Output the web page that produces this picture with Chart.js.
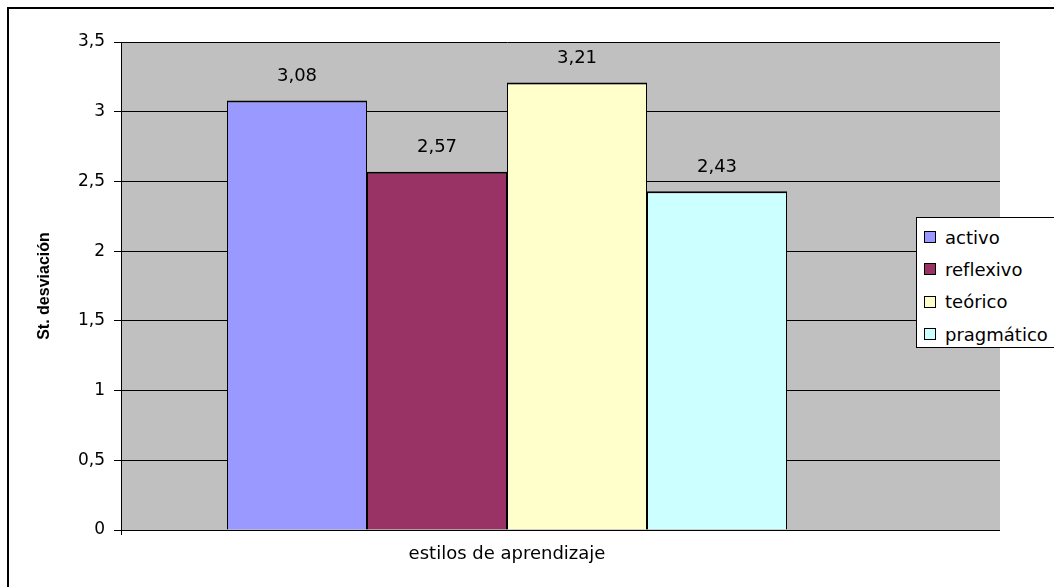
<!DOCTYPE html>
<html lang="es">
<head>
<meta charset="utf-8">
<title>Estilos de aprendizaje</title>
<script src="https://cdn.jsdelivr.net/npm/chart.js@4/dist/chart.umd.min.js"></script>
<style>
  html, body { margin: 0; padding: 0; background: #fff; overflow: hidden; }
  #wrap { position: relative; width: 1054px; height: 587px; overflow: hidden; }
  #frame { position: absolute; left: 7px; top: 7px; width: 2000px; height: 2000px;
           border: 2px solid #000; pointer-events: none; }
  canvas { position: absolute; left: 0; top: 0; }
  #legend { position: absolute; left: 916px; top: 217px; width: 160px; height: 131px;
            background: #fff; border: 1px solid #000; box-sizing: border-box;
            padding-top: 3px; font-family: "DejaVu Sans", sans-serif; font-size: 18px; color: #000; }
  #legend .row { display: flex; align-items: center; height: 32.3px; }
  #legend .sw { width: 12px; height: 12px; box-sizing: border-box; border: 1.5px solid #000;
                margin-left: 7px; margin-right: 9px; flex: none; }
</style>
</head>
<body>
<div id="wrap">
  <canvas id="chart" width="1054" height="587"></canvas>
  <div id="legend"></div>
  <div id="frame"></div>
</div>
<script>
// Data
const categories = ['estilos de aprendizaje'];
const seriesNames = ['activo', 'reflexivo', 'teórico', 'pragmático'];
const seriesValues = [3.08, 2.57, 3.21, 2.43];
const seriesColors = ['#9999FF', '#993366', '#FFFFCC', '#CCFFFF'];
const yTicks = [0, 0.5, 1, 1.5, 2, 2.5, 3, 3.5];

const commaNum = v => String(v).replace('.', ',');

// same pixel snapping Chart.js uses for 1px grid lines
const snap = p => Math.round(p - 0.5) + 0.5;

// Grey plot background; it reaches past the category axis, under the legend
const PLOT_EXTRA = 107;
const plotBackground = {
  id: 'plotBackground',
  beforeDraw(chart) {
    const { ctx, chartArea: a } = chart;
    ctx.save();
    ctx.fillStyle = '#C0C0C0';
    ctx.fillRect(a.left, a.top, a.right - a.left + PLOT_EXTRA, a.bottom - a.top);
    ctx.restore();
  },
  beforeDatasetsDraw(chart) {
    // carry the horizontal gridlines on through the extended grey area
    const { ctx, chartArea: a, scales: { y } } = chart;
    ctx.save();
    ctx.strokeStyle = '#000';
    ctx.lineWidth = 1;
    y.ticks.forEach(t => {
      const py = snap(y.getPixelForValue(t.value));
      ctx.beginPath();
      ctx.moveTo(a.right - 2, py);
      ctx.lineTo(a.right + PLOT_EXTRA, py);
      ctx.stroke();
    });
    ctx.restore();
  }
};

// Value written above each bar
const valueLabels = {
  id: 'valueLabels',
  afterDatasetsDraw(chart) {
    const { ctx } = chart;
    ctx.save();
    ctx.font = '18px "DejaVu Sans", sans-serif';
    ctx.fillStyle = '#000';
    ctx.textAlign = 'center';
    ctx.textBaseline = 'middle';
    chart.data.datasets.forEach((ds, i) => {
      chart.getDatasetMeta(i).data.forEach((bar, j) => {
        ctx.fillText(ds.data[j].toFixed(2).replace('.', ','), bar.x, bar.y - 24);
      });
    });
    ctx.restore();
  }
};

const chart = new Chart(document.getElementById('chart'), {
  type: 'bar',
  data: {
    labels: categories,
    datasets: seriesNames.map((name, i) => ({
      label: name,
      data: [seriesValues[i]],
      backgroundColor: seriesColors[i],
      borderColor: '#000',
      borderWidth: { top: 2, left: 1, right: 1, bottom: 0 },
      borderSkipped: false
    }))
  },
  options: {
    responsive: false,
    animation: false,
    events: [],
    layout: { padding: { top: 42, right: 161, bottom: 0, left: 0 } },
    datasets: { bar: { categoryPercentage: 560 / 772, barPercentage: 1 } },
    plugins: { legend: { display: false }, tooltip: { enabled: false } },
    scales: {
      x: {
        grid: {
          drawOnChartArea: false,
          drawTicks: true,
          tickLength: 5,
          color: c => (c.index === 0 ? '#000' : 'rgba(0,0,0,0)')
        },
        border: { display: true, color: '#000', width: 1 },
        ticks: { color: '#000', padding: 9, font: { family: 'DejaVu Sans', size: 18 } },
        afterFit(scale) { scale.height = 57; }
      },
      y: {
        min: 0,
        max: 3.5,
        afterBuildTicks(scale) { scale.ticks = yTicks.map(v => ({ value: v })); },
        grid: { color: '#000', lineWidth: 1, drawTicks: true, tickLength: 7 },
        border: { display: true, color: '#000', width: 1 },
        ticks: {
          color: '#000',
          padding: 9,
          font: { family: 'DejaVu Sans', size: 17 },
          callback: v => commaNum(v)
        },
        title: {
          display: true,
          text: 'St. desviación',
          color: '#000',
          font: { family: 'Liberation Sans', size: 16, weight: 'bold' },
          padding: { top: 35, bottom: 0 }
        },
        afterFit(scale) { scale.width = 121; }
      }
    }
  },
  plugins: [plotBackground, valueLabels]
});

// Legend built from the chart's datasets
const legendEl = document.getElementById('legend');
chart.data.datasets.forEach(ds => {
  const row = document.createElement('div');
  row.className = 'row';
  const sw = document.createElement('span');
  sw.className = 'sw';
  sw.style.background = ds.backgroundColor;
  const tx = document.createElement('span');
  tx.textContent = ds.label;
  row.appendChild(sw);
  row.appendChild(tx);
  legendEl.appendChild(row);
});
</script>
</body>
</html>
